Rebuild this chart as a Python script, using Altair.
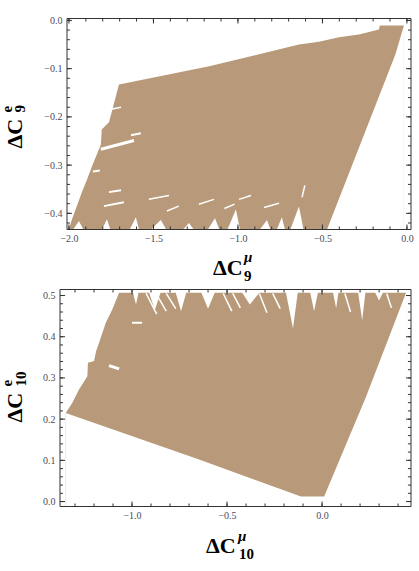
import altair as alt
import pandas as pd

TAN = "#B89A7A"
FRAME = "#333333"
LABEL = "#4a4a5a"
FONT = "Liberation Serif"

# ---------------- top panel (ΔC9μ vs ΔC9e) ----------------
top_x_domain = [-2.0529, 0.024]
top_frame_left = -2.0115
top_y_domain = [-0.4335, 0.004]
top_x_major = [-2.0, -1.5, -1.0, -0.5, 0.0]
top_y_major = [0.0, -0.1, -0.2, -0.3, -0.4]
top_x_minor = [round(-2.0 + 0.1 * i, 2) for i in range(21)]
top_y_minor = [round(-0.02 * i, 2) for i in range(22)]

top_upper_x = [-2.000, -1.982, -1.953, -1.923, -1.893, -1.864, -1.840, -1.811, -1.806,
               -1.763, -1.704, -1.170, -0.639, -0.521, -0.402, -0.284, -0.166, -0.160, -0.018]
top_upper_y = [-0.433, -0.412, -0.385, -0.356, -0.330, -0.303, -0.282, -0.257, -0.226,
               -0.211, -0.133, -0.095, -0.050, -0.044, -0.035, -0.029, -0.019, -0.0104, -0.0104]

top_cut_x = [-0.473, -0.068, -0.018]
top_cut_y = [-0.4335, -0.070, -0.0104]

top_notch_l = [-1.975, -1.805, -1.640, -1.515, -1.325, -1.178, -1.062, -0.870, -0.770, -0.690]
top_notch_p = [-1.941, -1.775, -1.604, -1.456, -1.290, -1.136, -1.012, -0.828, -0.740, -0.639]
top_notch_r = [-1.915, -1.755, -1.585, -1.425, -1.262, -1.110, -0.988, -0.808, -0.722, -0.612]
top_notch_y = [-0.416, -0.412, -0.408, -0.414, -0.420, -0.410, -0.392, -0.414, -0.408, -0.386]

top_streak_x1 = [-1.811, -1.751, -1.633, -1.858, -1.763, -1.793, -1.527, -1.231, -0.994, -0.846, -0.621, -1.420, -1.080]
top_streak_y1 = [-0.267, -0.184, -0.238, -0.313, -0.356, -0.385, -0.371, -0.381, -0.371, -0.388, -0.367, -0.395, -0.390]
top_streak_x2 = [-1.615, -1.692, -1.574, -1.817, -1.692, -1.675, -1.408, -1.142, -0.923, -0.757, -0.604, -1.350, -1.020]
top_streak_y2 = [-0.249, -0.180, -0.234, -0.311, -0.352, -0.377, -0.363, -0.371, -0.363, -0.379, -0.342, -0.385, -0.381]
top_streak_w = [3, 1.5, 2, 2, 2, 2, 1.5, 1.5, 1.5, 1.5, 1.5, 1.5, 1.5]

# ---------------- bottom panel (ΔC10μ vs ΔC10e) ----------------
bot_x_domain = [-1.379, 0.468]
bot_frame_left = -1.379
bot_y_domain = [-0.012, 0.5146]
bot_x_major = [-1.0, -0.5, 0.0]
bot_y_major = [0.0, 0.1, 0.2, 0.3, 0.4, 0.5]
bot_x_minor = [round(-1.3 + 0.1 * i, 2) for i in range(18)]
bot_y_minor = [round(0.02 * i, 2) for i in range(26)]

bot_upper_x = [-1.349, -1.314, -1.279, -1.235, -1.232, -1.200, -1.189, -1.174, -1.138, -1.104, -1.068, 0.442]
bot_upper_y = [0.215, 0.240, 0.272, 0.304, 0.337, 0.341, 0.365, 0.385, 0.434, 0.466, 0.507, 0.507]

bot_cut_x = [-1.349, -0.647, -0.111, 0.011, 0.232, 0.442]
bot_cut_y = [0.215, 0.102, 0.012, 0.012, 0.255, 0.507]

bot_notch_l = [-0.995, -0.910, -0.770, -0.635, -0.420, -0.190, -0.062, 0.058, 0.190, 0.280]
bot_notch_p = [-0.979, -0.880, -0.742, -0.600, -0.380, -0.153, -0.042, 0.074, 0.211, 0.300]
bot_notch_r = [-0.966, -0.850, -0.715, -0.565, -0.330, -0.128, -0.022, 0.086, 0.228, 0.320]
bot_notch_y = [0.478, 0.465, 0.462, 0.468, 0.478, 0.420, 0.462, 0.470, 0.440, 0.488]

bot_streak_x1 = [-1.121, -1.000, -0.926, -0.874, -0.820, -0.520, -0.470, -0.330, -0.260, 0.120, 0.340]
bot_streak_y1 = [0.330, 0.434, 0.505, 0.505, 0.505, 0.505, 0.505, 0.505, 0.505, 0.505, 0.505]
bot_streak_x2 = [-1.068, -0.947, -0.870, -0.820, -0.770, -0.475, -0.430, -0.290, -0.220, 0.150, 0.365]
bot_streak_y2 = [0.322, 0.434, 0.455, 0.462, 0.468, 0.462, 0.470, 0.458, 0.468, 0.460, 0.470]
bot_streak_w = [3, 2, 1.5, 1.5, 1.5, 1.5, 1.5, 1.5, 1.5, 1.5, 1.5]


def panel(xd, frame_left, yd, xmaj, ymaj, xmin, ymin, ux, uy, cx, cy, nl, npk, nr, ny, hanging,
          sx1, sy1, sx2, sy2, sw, width, height, ylabel_pad, titles):
    xs = alt.Scale(domain=xd, nice=False, zero=False)
    ys = alt.Scale(domain=yd, nice=False, zero=False)
    lo, hi = yd
    left_px = (frame_left - xd[0]) / (xd[1] - xd[0]) * width

    lab = dict(title=None, grid=False, ticks=False, domain=False, format=".1f",
               labelFont=FONT, labelFontSize=10, labelColor=LABEL,
               labelFlush=False, labelOverlap=False)

    shape = pd.DataFrame({"x": ux, "y": uy, "lo": [lo] * len(ux)})
    base = alt.Chart(shape).mark_area(color=TAN, clip=True, interpolate="linear").encode(
        x=alt.X("x:Q", scale=xs, axis=alt.Axis(orient="bottom", values=xmaj, labelPadding=4, **lab)),
        y=alt.Y("y:Q", scale=ys, axis=alt.Axis(orient="left", values=ymaj, labelPadding=ylabel_pad, **lab)),
        y2="lo:Q",
    )

    cut = pd.DataFrame({"x": cx, "y": cy, "lo": [lo] * len(cx)})
    cut_layer = alt.Chart(cut).mark_area(color="white", clip=True).encode(
        x=alt.X("x:Q", scale=xs, axis=None),
        y=alt.Y("y:Q", scale=ys, axis=None),
        y2="lo:Q",
    )

    rows = []
    edge = hi if hanging else lo
    rim = uy[-1] if hanging else lo
    for i, (a, p, b, d) in enumerate(zip(nl, npk, nr, ny)):
        rows += [{"id": i, "x": a, "y": rim, "e": edge},
                 {"id": i, "x": p, "y": d, "e": edge},
                 {"id": i, "x": b, "y": rim, "e": edge}]
    notch_layer = alt.Chart(pd.DataFrame(rows)).mark_area(color="white", clip=True).encode(
        x=alt.X("x:Q", scale=xs, axis=None),
        y=alt.Y("y:Q", scale=ys, axis=None),
        y2="e:Q",
        detail="id:N",
    )

    streaks = pd.DataFrame({"x1": sx1, "y1": sy1, "x2": sx2, "y2": sy2, "w": sw})
    streak_layer = alt.Chart(streaks).mark_rule(color="white", clip=True).encode(
        x=alt.X("x1:Q", scale=xs, axis=None),
        y=alt.Y("y1:Q", scale=ys, axis=None),
        x2="x2:Q",
        y2="y2:Q",
        size=alt.Size("w:Q", scale=None, legend=None),
    )

    frame = alt.Chart(pd.DataFrame({"a": [frame_left], "b": [xd[1]]})).mark_rect(
        filled=False, stroke=FRAME, strokeWidth=1
    ).encode(
        x=alt.X("a:Q", scale=xs, axis=None), x2="b:Q",
        y=alt.value(0), y2=alt.value(height),
    )

    def xticks(vals, length):
        df = pd.DataFrame({"v": vals})
        bot = alt.Chart(df).mark_rule(color=FRAME, strokeWidth=1).encode(
            x=alt.X("v:Q", scale=xs, axis=None), y=alt.value(height), y2=alt.value(height - length))
        topt = alt.Chart(df).mark_rule(color=FRAME, strokeWidth=1).encode(
            x=alt.X("v:Q", scale=xs, axis=None), y=alt.value(0), y2=alt.value(length))
        return [bot, topt]

    def yticks(vals, length):
        df = pd.DataFrame({"v": vals})
        lft = alt.Chart(df).mark_rule(color=FRAME, strokeWidth=1).encode(
            y=alt.Y("v:Q", scale=ys, axis=None), x=alt.value(left_px), x2=alt.value(left_px + length))
        rgt = alt.Chart(df).mark_rule(color=FRAME, strokeWidth=1).encode(
            y=alt.Y("v:Q", scale=ys, axis=None), x=alt.value(width), x2=alt.value(width - length))
        return [lft, rgt]

    tick_layers = xticks(xmaj, 5) + xticks(xmin, 3) + yticks(ymaj, 5) + yticks(ymin, 3)

    text_layers = []
    for (t, px, py, size, angle, italic) in titles:
        kw = dict(font=FONT, fontWeight="bold", fontSize=size, align="left",
                  baseline="alphabetic", color="black")
        if angle:
            kw["angle"] = angle
        if italic:
            kw["fontStyle"] = "italic"
        text_layers.append(
            alt.Chart(pd.DataFrame({"t": [t]})).mark_text(**kw).encode(
                x=alt.value(px), y=alt.value(py), text="t:N"
            )
        )

    return alt.layer(base, cut_layer, notch_layer, streak_layer, frame, *tick_layers, *text_layers).resolve_axis(
        x="independent", y="independent"
    ).properties(width=width, height=height)


# title pieces: text, x, y (pixels from the panel's plot origin), size, angle, italic
top_titles = [
    ("ΔC", 153, 256, 22, 0, False),
    ("μ", 184, 243, 15, 0, True),
    ("9", 184, 262, 15, 0, False),
    ("ΔC", -38, 130, 22, 270, False),
    ("e", -48, 94, 15, 270, False),
    ("9", -35, 94, 15, 270, False),
]
bot_titles = [
    ("ΔC", 146, 263, 22, 0, False),
    ("μ", 178, 251, 15, 0, True),
    ("10", 179, 269, 15, 0, False),
    ("ΔC", -38, 133, 22, 270, False),
    ("e", -48, 97, 15, 270, False),
    ("10", -34, 97, 15, 270, False),
]

top = panel(top_x_domain, top_frame_left, top_y_domain, top_x_major, top_y_major, top_x_minor, top_y_minor,
            top_upper_x, top_upper_y, top_cut_x, top_cut_y,
            top_notch_l, top_notch_p, top_notch_r, top_notch_y, False,
            top_streak_x1, top_streak_y1, top_streak_x2, top_streak_y2, top_streak_w,
            351, 211, -2, top_titles)
bottom = panel(bot_x_domain, bot_frame_left, bot_y_domain, bot_x_major, bot_y_major, bot_x_minor, bot_y_minor,
               bot_upper_x, bot_upper_y, bot_cut_x, bot_cut_y,
               bot_notch_l, bot_notch_p, bot_notch_r, bot_notch_y, True,
               bot_streak_x1, bot_streak_y1, bot_streak_x2, bot_streak_y2, bot_streak_w,
               351, 217, 5, bot_titles)

chart = alt.vconcat(top, bottom, spacing=60, bounds="flush").properties(
    padding={"left": 0, "top": 14.5, "right": 0, "bottom": 0},
    background="white",
).configure_view(stroke=None)

chart.save("out.html", embed_options={"renderer": "svg", "actions": False})
